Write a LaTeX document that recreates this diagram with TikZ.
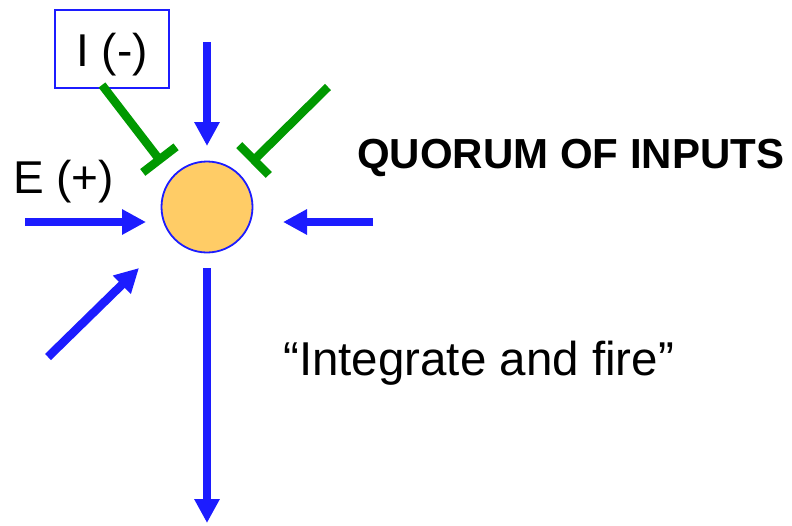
\documentclass[tikz,border=0pt]{standalone}
\usepackage{fontspec}
\setmainfont{Liberation Sans}
\usetikzlibrary{arrows.meta}
\definecolor{myblue}{RGB}{28,28,255}
\definecolor{mygreen}{RGB}{0,153,0}
\definecolor{myorange}{RGB}{255,204,102}
\tikzset{
  excit/.style={draw=myblue, line width=8.5pt, -{Triangle[width=24pt,length=24pt]}},
  inhib/.style={draw=mygreen, line width=8.5pt, -{Bar[width=42pt]}},
  bigtext/.style={font=\fontsize{46}{46}\selectfont, inner sep=0pt},
}
\begin{document}
\begin{tikzpicture}[x=1pt,y=-1pt]
\useasboundingbox (0,0) rectangle (792,525);
% neuron
\node[circle, draw=myblue, line width=1.8pt, fill=myorange, minimum size=91pt, inner sep=0pt] (n) at (207,207) {};
% inhibitory box
\node[draw=myblue, line width=1.8pt, minimum width=114pt, minimum height=78pt, inner sep=0pt] (ibox) at (112,49) {};
\node[bigtext, anchor=base] (itext) at (112,66) {I (-)};
% labels
\node[bigtext, anchor=base west] (etext) at (13,193) {E (+)};
\node[font=\fontsize{42}{42}\selectfont\bfseries, inner sep=0pt, anchor=base west] (quorum) at (357,168) {QUORUM OF INPUTS};
\node[font=\fontsize{47.5}{47.5}\selectfont, inner sep=0pt, anchor=base west] (fire) at (283,375) {“Integrate and fire”};
% coordinates
\coordinate (a1s) at (207,42);  \coordinate (a1e) at (207,146);
\coordinate (a2s) at (25,222);  \coordinate (a2e) at (146,222);
\coordinate (a3s) at (373,222); \coordinate (a3e) at (283,222);
\coordinate (a4s) at (48,357);  \coordinate (a4e) at (139,268);
\coordinate (a5s) at (207,268); \coordinate (a5e) at (207,523);
\coordinate (g1s) at (102,85);  \coordinate (g1e) at (162,163);
\coordinate (g2s) at (328,87);  \coordinate (g2e) at (251,163);
% connectors
\draw[excit] (a1s) -- (a1e);
\draw[excit] (a2s) -- (a2e);
\draw[excit] (a3s) -- (a3e);
\draw[excit] (a4s) -- (a4e);
\draw[excit] (a5s) -- (a5e);
\draw[inhib] (g1s) -- (g1e);
\draw[inhib] (g2s) -- (g2e);
\end{tikzpicture}
\end{document}
